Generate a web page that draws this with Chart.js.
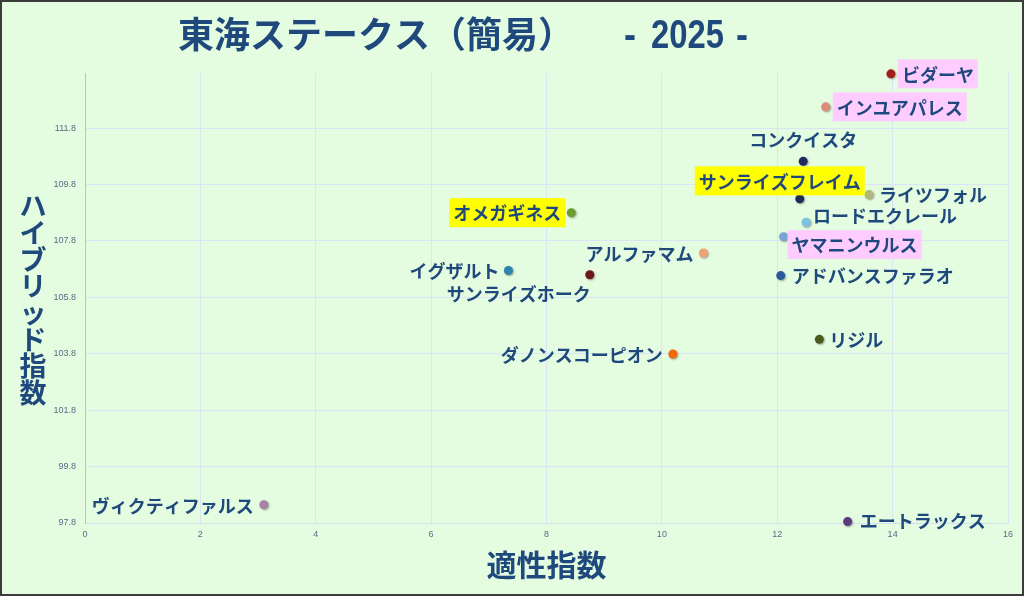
<!DOCTYPE html>
<html>
<head>
    <meta charset="utf-8">
    <title>東海ステークス（簡易） - 2025 -</title>
    <style>
        body {
            margin: 0;
            padding: 0;
            background-color: #e4fce0;
        }

        #chart-box {
            width: 1024px;
            height: 596px;
            position: relative;
        }
    </style>
    <script src="https://cdn.jsdelivr.net/npm/chart.js"></script>
</head>
<body>
    <div id="chart-box">
        <canvas id="tokai-chart"></canvas>
    </div>

<script>
    // Horses and their two indexes
    var horseNames = ['ビダーヤ', 'インユアパレス', 'コンクイスタ', 'サンライズフレイム', 'ライツフォル',
        'オメガギネス', 'ロードエクレール', 'ヤマニンウルス', 'アルファマム', 'イグザルト',
        'サンライズホーク', 'アドバンスファラオ', 'リジル', 'ダノンスコーピオン', 'エートラックス',
        'ヴィクティファルス'];
    var fitnessIndex = [13.97, 12.84, 12.45, 12.39, 13.59, 8.43, 12.50, 12.11, 10.72, 7.34,
        8.75, 12.06, 12.73, 10.19, 13.22, 3.10];
    var hybridIndex = [113.72, 112.55, 110.62, 109.29, 109.44, 108.80, 108.46, 107.95, 107.37, 106.75,
        106.60, 106.57, 104.31, 103.79, 97.85, 98.45];

    // Tick labels
    var xTicks = [0, 2, 4, 6, 8, 10, 12, 14, 16];
    var yTicks = [97.8, 99.8, 101.8, 103.8, 105.8, 107.8, 109.8, 111.8];

    // Styling per horse (dot colour, where the name goes, highlight)
    var dotColors = ['#a31d1d', '#e08a7a', '#22285a', '#252a55', '#b2b77a', '#6e9a34', '#7cc3e0', '#7aa3d6',
        '#eea276', '#2f84ae', '#6b1717', '#2b5a9c', '#4b5b1c', '#f06a0a', '#5d3b7b', '#a783a8'];
    var labelAlign = ['left', 'left', 'center', 'center', 'left', 'right', 'left', 'left',
        'right', 'right', 'center', 'left', 'left', 'right', 'left', 'right'];
    var labelDx = [11, 11, 0, -20, 10, -10, 7, 8, -10, -9, -71, 11, 10, -10, 12, -10];
    var labelDy = [0, 0, -22, -18, 0, 0, -7, 8, 0, 0, 18, 0, 0, 0, -1, 0];
    var labelBg = ['#ffccff', '#ffccff', null, '#ffff00', null, '#ffff00', null, '#ffccff',
        null, null, null, null, null, null, null, null];

    var navy = '#1f497d';
    var jpFont = '"Noto Sans CJK JP", "Noto Sans", sans-serif';

    var points = [];
    for (var i = 0; i < horseNames.length; i++) {
        points.push({ x: fitnessIndex[i], y: hybridIndex[i] });
    }

    // draws text squeezed sideways, the year part of the title is a narrow face
    function narrowText(ctx, text, x, y, squeeze) {
        ctx.save();
        ctx.translate(x, y);
        ctx.scale(squeeze, 1);
        ctx.fillText(text, 0, 0);
        ctx.restore();
    }

    // Background, frame, title, vertical y title and the name labels
    var decorPlugin = {
        id: 'decor',
        beforeDraw: function (chart) {
            var ctx = chart.ctx;
            ctx.save();
            ctx.fillStyle = '#e4fce0';
            ctx.fillRect(0, 0, chart.width, chart.height);
            ctx.restore();
        },
        beforeDatasetsDraw: function (chart) {
            var ctx = chart.ctx;
            ctx.save();
            ctx.shadowColor = 'rgba(0, 0, 0, 0.35)';
            ctx.shadowBlur = 2;
            ctx.shadowOffsetX = 1;
            ctx.shadowOffsetY = 1;
        },
        afterDatasetsDraw: function (chart) {
            var ctx = chart.ctx;
            ctx.restore();

            var meta = chart.getDatasetMeta(0);
            ctx.save();
            ctx.font = 'bold 18px ' + jpFont;
            ctx.textBaseline = 'middle';
            for (var i = 0; i < meta.data.length; i++) {
                var pt = meta.data[i];
                var tx = pt.x + labelDx[i];
                var ty = pt.y + labelDy[i];
                var w = ctx.measureText(horseNames[i]).width;
                var left = tx;
                if (labelAlign[i] === 'right') left = tx - w;
                if (labelAlign[i] === 'center') left = tx - w / 2;
                if (labelBg[i]) {
                    ctx.fillStyle = labelBg[i];
                    ctx.fillRect(left - 4, ty - 14.5, w + 8, 29);
                }
                ctx.fillStyle = navy;
                ctx.textAlign = 'left';
                ctx.fillText(horseNames[i], left, ty + 1);
            }
            ctx.restore();
        },
        afterDraw: function (chart) {
            var ctx = chart.ctx;
            ctx.save();

            // title
            ctx.fillStyle = navy;
            ctx.textBaseline = 'alphabetic';
            ctx.textAlign = 'left';
            ctx.font = 'bold 36px ' + jpFont;
            ctx.fillText('東海ステークス（簡易）', 178, 48);
            ctx.font = 'bold 40px "Liberation Sans", sans-serif';
            narrowText(ctx, '-', 624, 48, 0.9);
            narrowText(ctx, '2025', 651, 48, 0.82);
            narrowText(ctx, '-', 736, 48, 0.9);

            // y axis title, one character under the other
            var yTitle = 'ハイブリッド指数';
            ctx.font = 'bold 27px ' + jpFont;
            ctx.textAlign = 'center';
            ctx.textBaseline = 'middle';
            for (var k = 0; k < yTitle.length; k++) {
                ctx.fillText(yTitle.charAt(k), 33, 206 + k * 26.7);
            }

            // frame
            ctx.strokeStyle = '#3c3c3c';
            ctx.lineWidth = 2;
            ctx.strokeRect(1, 1, chart.width - 2, chart.height - 2);
            ctx.restore();
        }
    };

    var ctx = document.getElementById('tokai-chart').getContext('2d');
    var tokaiChart = new Chart(ctx, {
        type: 'scatter',
        data: {
            datasets: [{
                label: '東海ステークス',
                data: points,
                backgroundColor: dotColors,
                borderWidth: 0,
                pointRadius: 4.5,
                pointHoverRadius: 4.5,
                clip: false
            }]
        },
        options: {
            responsive: true,
            maintainAspectRatio: false,
            animation: false,
            layout: {
                padding: { left: 0, right: 16, top: 73, bottom: 0 }
            },
            plugins: {
                legend: { display: false },
                tooltip: { enabled: false }
            },
            scales: {
                x: {
                    type: 'linear',
                    min: xTicks[0],
                    max: xTicks[xTicks.length - 1],
                    afterBuildTicks: function (scale) {
                        scale.ticks = xTicks.map(function (v) { return { value: v }; });
                    },
                    afterFit: function (scale) {
                        scale.height = 73;
                    },
                    grid: {
                        color: '#d9e4f6',
                        drawTicks: false
                    },
                    border: { color: '#d3e0f3' },
                    ticks: {
                        padding: 6,
                        color: '#5a6b87',
                        font: { family: 'Liberation Sans', size: 9 }
                    },
                    title: {
                        display: true,
                        text: '適性指数',
                        color: navy,
                        font: { family: jpFont, size: 30, weight: 'bold' },
                        padding: { top: 0, bottom: 13 }
                    }
                },
                y: {
                    type: 'linear',
                    min: yTicks[0],
                    max: 113.75,
                    afterBuildTicks: function (scale) {
                        scale.ticks = yTicks.map(function (v) { return { value: v }; });
                    },
                    afterFit: function (scale) {
                        scale.width = 85;
                    },
                    grid: {
                        color: '#d9e4f6',
                        drawTicks: false
                    },
                    border: { color: '#a8c3ef' },
                    ticks: {
                        padding: 9,
                        color: '#5a6b87',
                        font: { family: 'Liberation Sans', size: 9 },
                        callback: function (value) { return value.toFixed(1); }
                    }
                }
            }
        },
        plugins: [decorPlugin]
    });
</script>

</body>
</html>
